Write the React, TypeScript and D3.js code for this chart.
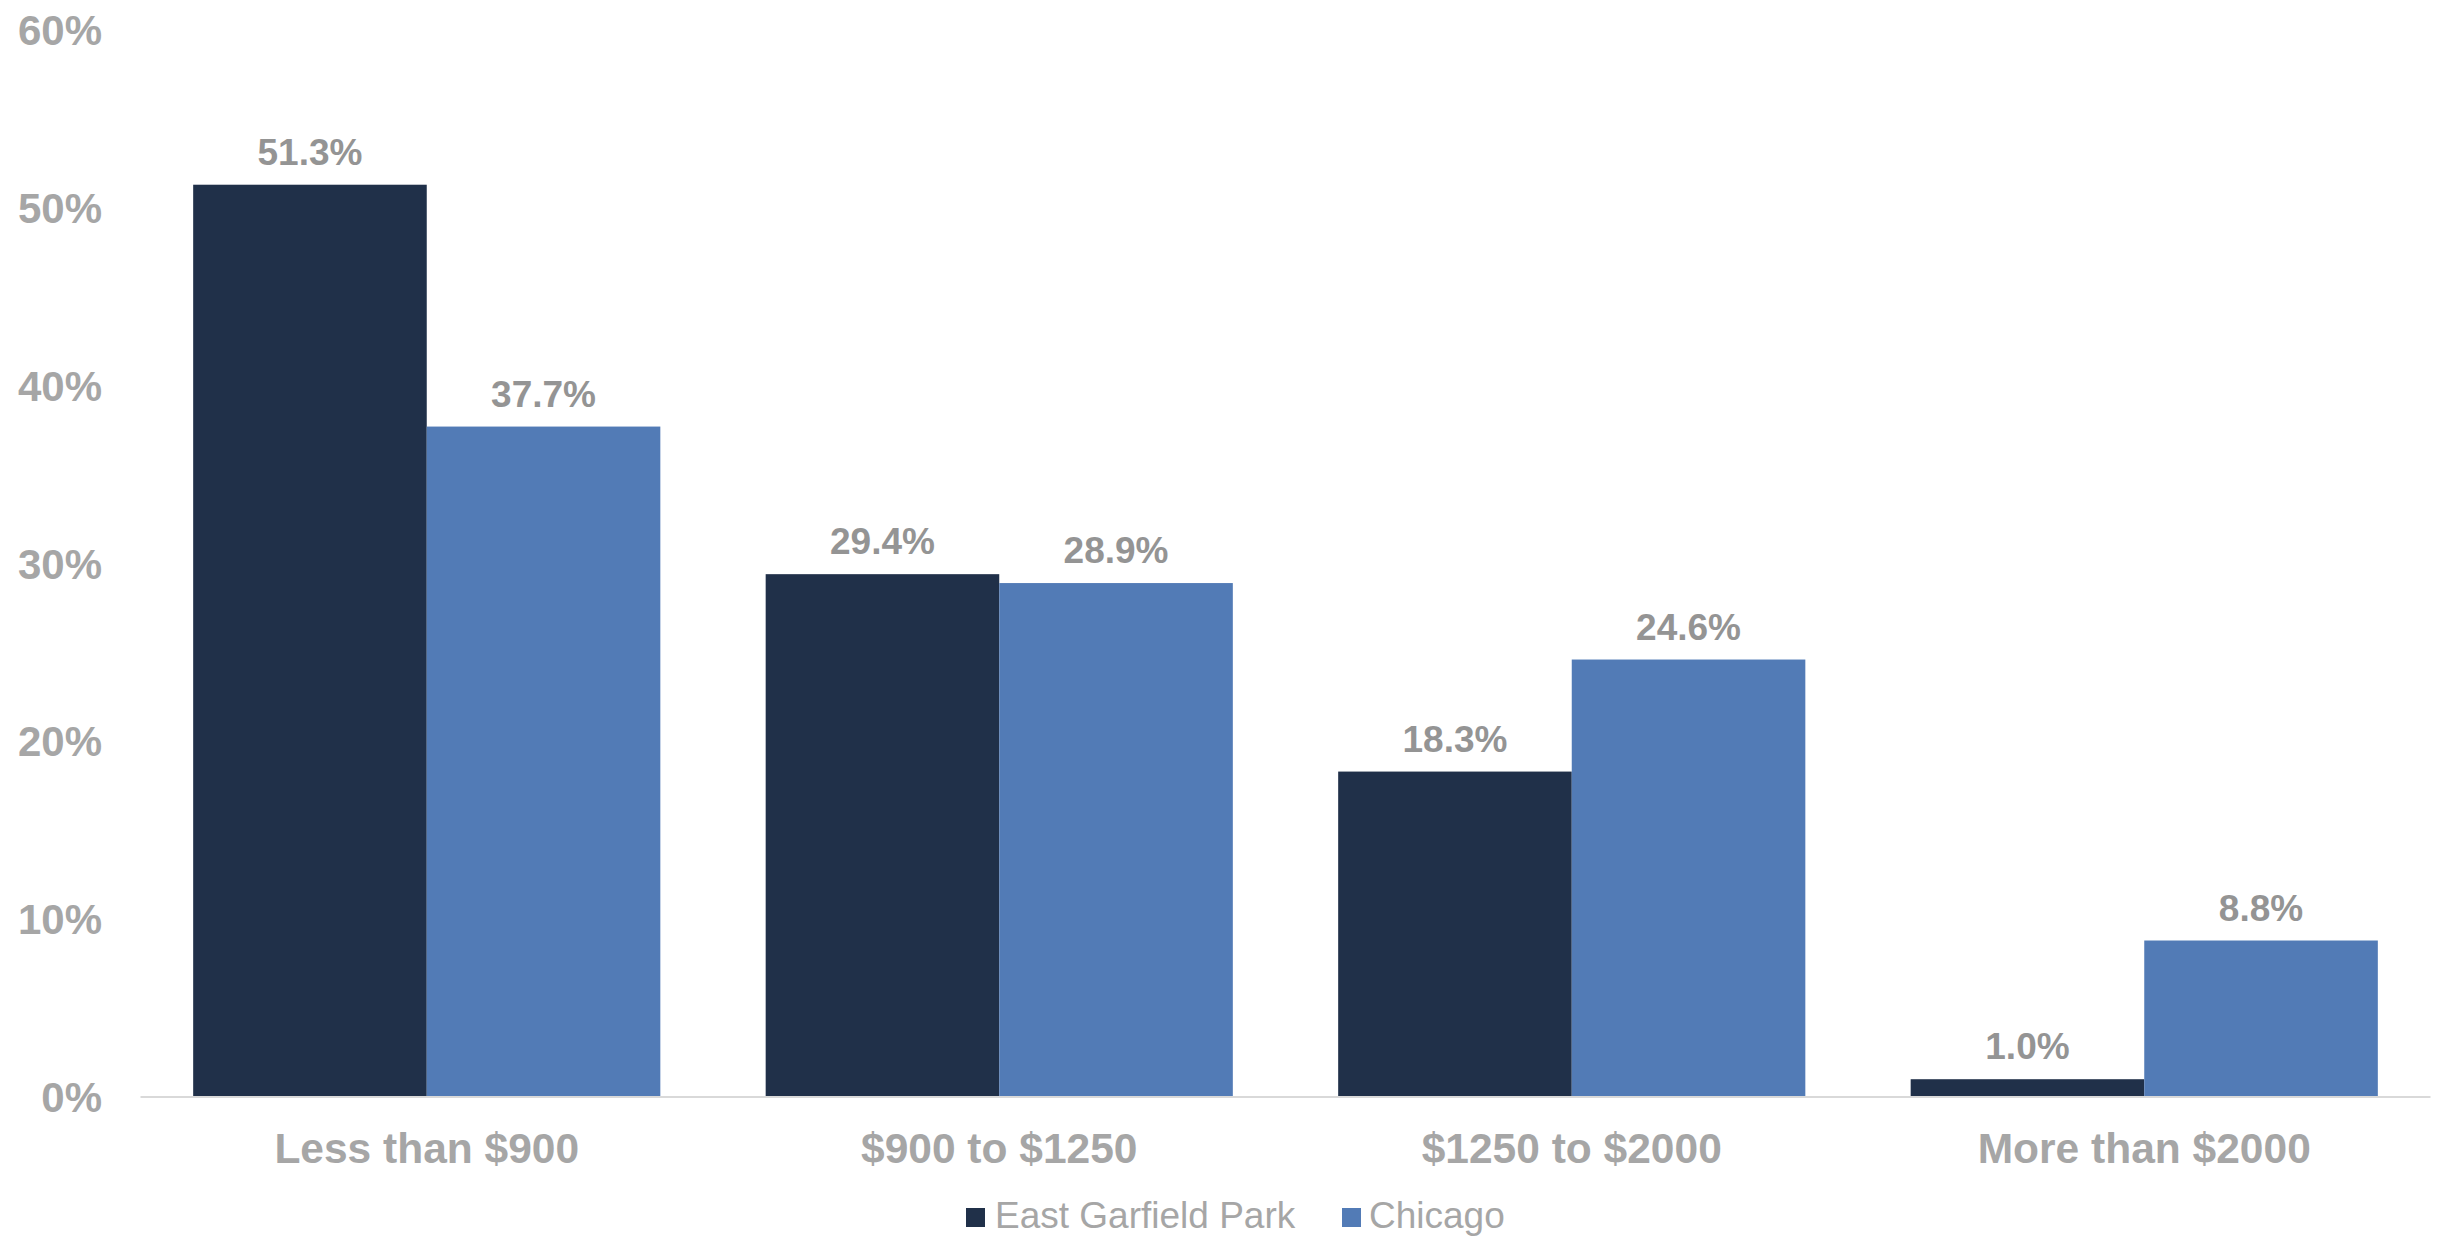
import React from "react";
import * as d3 from "d3";

const categories = ["Less than $900", "$900 to $1250", "$1250 to $2000", "More than $2000"];
const seriesNames = ["East Garfield Park", "Chicago"];
const eastGarfieldPark = [0.513, 0.294, 0.183, 0.01];
const chicago = [0.377, 0.289, 0.246, 0.088];
const yTicks = [0, 0.1, 0.2, 0.3, 0.4, 0.5, 0.6];
const colors = ["#203049", "#527BB6"];

const W = 2437;
const H = 1238;
const FONT = "'Liberation Sans', Arial, Helvetica, sans-serif";

export default function App() {
  const seriesValues = [eastGarfieldPark, chicago];
  const x = d3
    .scaleBand<string>()
    .domain(categories)
    .range([140.5, 2430.5])
    .paddingInner(0.184)
    .paddingOuter(0.092);
  const xs = d3.scaleBand<string>().domain(seriesNames).range([0, x.bandwidth()]).padding(0);
  const y = d3.scaleLinear().domain([0, 0.6]).range([1097, 30]);
  const pct0 = d3.format(".0%");
  const pct1 = d3.format(".1%");

  const legendItems = [
    { name: seriesNames[0], sq: 966, tx: 995 },
    { name: seriesNames[1], sq: 1342, tx: 1369 },
  ];

  return (
    <div style={{ position: "absolute", left: 0, top: 0 }}>
      <svg width={W} height={H} style={{ display: "block", background: "#fff" }} fontFamily={FONT}>
        {/* y tick labels */}
        {yTicks.map((t) => (
          <text
            key={t}
            x={102}
            y={y(t) + 15}
            textAnchor="end"
            fontSize={42}
            fontWeight="bold"
            fill="#A6A6A6"
          >
            {pct0(t)}
          </text>
        ))}
        {/* bars */}
        {categories.map((c, i) => (
          <g key={c} transform={`translate(${x(c)},0)`}>
            {seriesNames.map((s, j) => {
              const v = seriesValues[j][i];
              return (
                <g key={s}>
                  <rect
                    x={xs(s)}
                    y={y(v)}
                    width={xs.bandwidth()}
                    height={y(0) - y(v)}
                    fill={colors[j]}
                  />
                  <text
                    x={(xs(s) as number) + xs.bandwidth() / 2}
                    y={y(v) - 20}
                    textAnchor="middle"
                    fontSize={37}
                    fontWeight="bold"
                    fill="#949494"
                  >
                    {pct1(v)}
                  </text>
                </g>
              );
            })}
          </g>
        ))}
        {/* baseline */}
        <line x1={140.5} x2={2430.5} y1={y(0)} y2={y(0)} stroke="#D9D9D9" strokeWidth={2} />
        {/* x labels */}
        {categories.map((c) => (
          <text
            key={c}
            x={(x(c) as number) + x.bandwidth() / 2}
            y={1163}
            textAnchor="middle"
            fontSize={42.5}
            fontWeight="bold"
            fill="#A6A6A6"
          >
            {c}
          </text>
        ))}
        {/* legend */}
        {legendItems.map((l, j) => (
          <g key={l.name}>
            <rect x={l.sq} y={1208} width={19} height={19} fill={colors[j]} />
            <text x={l.tx} y={1227.5} fontSize={37} fill="#A6A6A6">
              {l.name}
            </text>
          </g>
        ))}
      </svg>
    </div>
  );
}
